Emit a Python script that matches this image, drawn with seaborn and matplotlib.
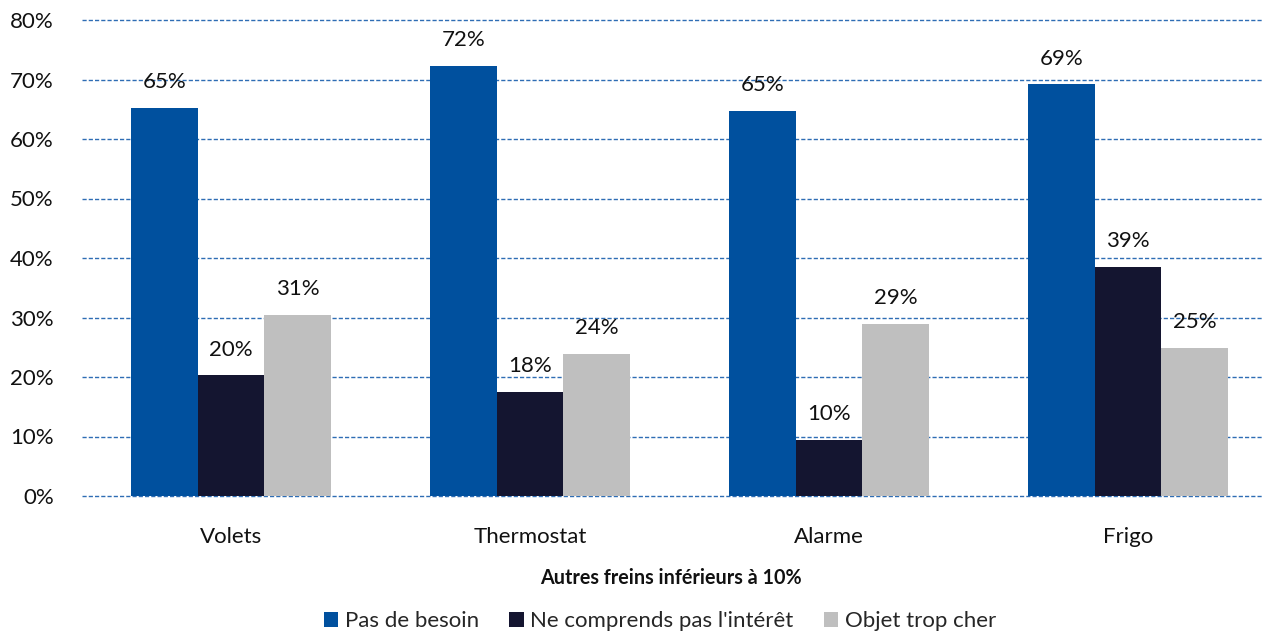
import matplotlib
matplotlib.use("Agg")
import matplotlib.pyplot as plt
import seaborn as sns
import pandas as pd
from matplotlib.patches import Patch

categories = ["Volets", "Thermostat", "Alarme", "Frigo"]
series = ["Pas de besoin", "Ne comprends pas l'intérêt", "Objet trop cher"]
pas_de_besoin = [65.2, 72.3, 64.7, 69.2]
ne_comprends = [20.3, 17.5, 9.4, 38.5]
trop_cher = [30.4, 23.9, 28.9, 24.9]
labels_pas = ["65%", "72%", "65%", "69%"]
labels_ne = ["20%", "18%", "10%", "39%"]
labels_cher = ["31%", "24%", "29%", "25%"]
yticks = [0, 10, 20, 30, 40, 50, 60, 70, 80]
xlabel = "Autres freins inférieurs à 10%"

colors = ["#00509E", "#141530", "#BFBFBF"]

rows = []
for s, vals in zip(series, [pas_de_besoin, ne_comprends, trop_cher]):
    for c, v in zip(categories, vals):
        rows.append({"cat": c, "serie": s, "val": v})
df = pd.DataFrame(rows)

sns.set_theme(style="white")
plt.rcParams['font.family'] = ['Lato', 'DejaVu Sans']

FS = 16

fig = plt.figure(figsize=(12.63, 6.33), dpi=100)
ax = fig.add_axes([81.5 / 1263, 1 - 496 / 633, 1196 / 1263, 476 / 633])

sns.barplot(data=df, x="cat", y="val", hue="serie", order=categories,
            hue_order=series, palette=colors, width=0.667, gap=0,
            saturation=1, legend=False, ax=ax, edgecolor="none", linewidth=0)

ax.set_ylim(0, 80)
ax.set_xlim(-0.5, 3.5)
ax.set_yticks(yticks)
ax.set_yticklabels([f"{t}%" for t in yticks], fontsize=FS, color="#111111")
ax.tick_params(axis="x", labelsize=FS, pad=22, length=0, colors="#111111")
ax.tick_params(axis="y", pad=20, length=0)
ax.yaxis.grid(True, linestyle=(0, (3, 1.5)), color="#2E6DB4", linewidth=1)
for gl in ax.get_ygridlines():
    gl.set_clip_on(False)
ax.set_axisbelow(True)
for sp in ax.spines.values():
    sp.set_visible(False)
ax.set_xlabel("")
ax.set_ylabel("")

all_labels = [labels_pas, labels_ne, labels_cher]
for cont, labs in zip(ax.containers, all_labels):
    for bar, lab in zip(cont, labs):
        x = bar.get_x() + bar.get_width() / 2
        y = bar.get_height()
        ax.annotate(lab, (x, y), xytext=(0, 18.5), textcoords="offset points",
                    ha="center", va="center", fontsize=FS, color="#111111",
                    annotation_clip=False)

fig.text(671 / 1263, 1 - 578 / 633, xlabel, ha="center", va="center",
         fontsize=14.2, fontweight="bold", color="#111111")

handles = [Patch(facecolor=c, edgecolor="none", label=s) for c, s in zip(colors, series)]
fig.legend(handles=handles, loc="center", bbox_to_anchor=(660 / 1263, 1 - 621 / 633),
           ncol=3, frameon=False, fontsize=FS, handlelength=0.65, handleheight=0.65,
           handletextpad=0.3, columnspacing=1.35)

fig.savefig("out.png", dpi=100)
